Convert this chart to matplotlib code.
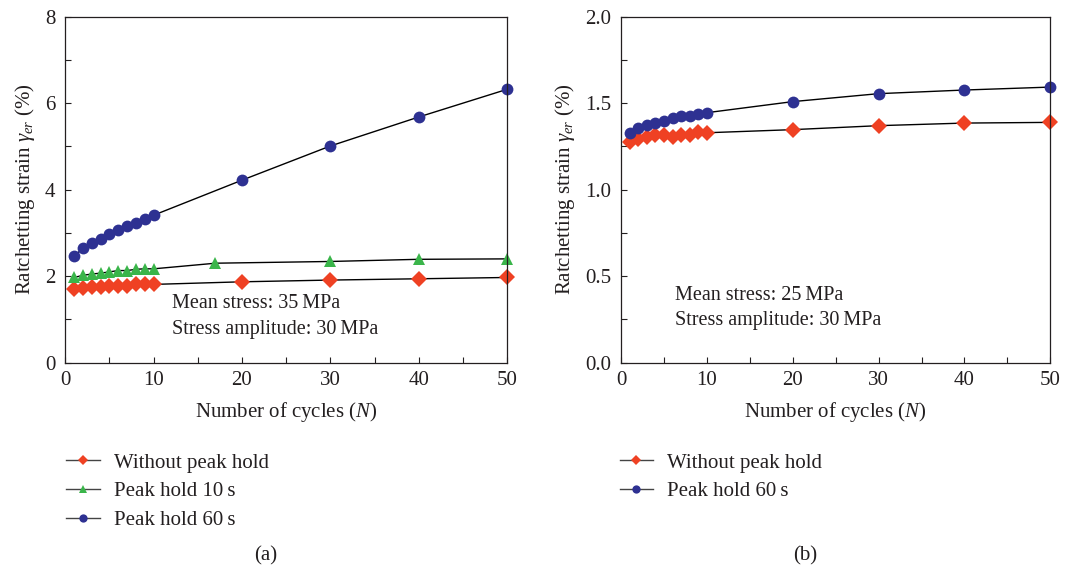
import matplotlib
matplotlib.use("Agg")
import matplotlib.pyplot as plt
from matplotlib.ticker import MultipleLocator

# ---------------------------------------
# Data: ratchetting strain vs cycles
# ---------------------------------------

cycles = [1, 2, 3, 4, 5, 6, 7, 8, 9, 10, 20, 30, 40, 50]
cycles_10s = [1, 2, 3, 4, 5, 6, 7, 8, 9, 10, 17, 30, 40, 50]

# (a) mean stress 35 MPa
a_no_hold = [1.70, 1.72, 1.74, 1.76, 1.77, 1.78, 1.78, 1.81, 1.81, 1.81, 1.87, 1.91, 1.94, 1.97]
a_hold_10s = [1.97, 2.02, 2.05, 2.07, 2.10, 2.13, 2.13, 2.16, 2.17, 2.17, 2.30, 2.34, 2.39, 2.40]
a_hold_60s = [2.47, 2.64, 2.77, 2.87, 2.97, 3.07, 3.15, 3.24, 3.32, 3.41, 4.22, 5.01, 5.68, 6.32]

# (b) mean stress 25 MPa
b_no_hold = [1.277, 1.295, 1.306, 1.318, 1.318, 1.306, 1.318, 1.316, 1.333, 1.329, 1.347, 1.370, 1.385, 1.389]
b_hold_60s = [1.326, 1.358, 1.372, 1.383, 1.399, 1.416, 1.424, 1.428, 1.439, 1.445, 1.509, 1.555, 1.576, 1.593]

labels = ["Without peak hold", "Peak hold 10\u2009s", "Peak hold 60\u2009s"]

RED = "#ef4123"
GREEN = "#3ab54a"
BLUE = "#2e3192"
TXT = "#231f20"

plt.rcParams["font.family"] = ["Liberation Serif", "DejaVu Serif"]
plt.rcParams["mathtext.fontset"] = "custom"
plt.rcParams["mathtext.rm"] = "Liberation Serif"
plt.rcParams["mathtext.it"] = "Liberation Serif:italic"
plt.rcParams["font.size"] = 15
plt.rcParams["text.color"] = TXT
plt.rcParams["axes.labelcolor"] = TXT
plt.rcParams["xtick.color"] = TXT
plt.rcParams["ytick.color"] = TXT
plt.rcParams["axes.edgecolor"] = TXT

fig = plt.figure(figsize=(10.85, 5.69), dpi=100)
ax1 = fig.add_axes([0.0602, 0.3626, 0.4071, 0.6081])
ax2 = fig.add_axes([0.5724, 0.3626, 0.3956, 0.6081])

line_kw = dict(color="black", lw=1.0, markeredgewidth=0)


def style_axes(ax, ymax, ymajor, yminor):
    ax.set_xlim(0, 50)
    ax.set_ylim(0, ymax)
    ax.xaxis.set_major_locator(MultipleLocator(10))
    ax.xaxis.set_minor_locator(MultipleLocator(5))
    ax.yaxis.set_major_locator(MultipleLocator(ymajor))
    ax.yaxis.set_minor_locator(MultipleLocator(yminor))
    ax.tick_params(which="both", direction="in", length=4, width=0.8,
                   top=False, right=False, labelsize=15)
    ax.tick_params(axis="x", pad=6)
    ax.tick_params(axis="y", pad=7)
    for sp in ax.spines.values():
        sp.set_linewidth(0.9)
    ax.set_xlabel("Number of cycles ($N$)", fontsize=15, labelpad=7)
    ax.set_ylabel("Ratchetting strain $\\gamma_{er}$ (%)", fontsize=15, labelpad=6)


def add_legend(ax, x0):
    leg = ax.legend(loc="upper left", bbox_to_anchor=(x0, 0.204), bbox_transform=fig.transFigure,
                    frameon=False, fontsize=15, handlelength=1.6, handletextpad=0.7,
                    labelspacing=0.45, markerscale=0.7, borderaxespad=0, borderpad=0)
    for h in leg.get_lines():
        h.set_color("#444444")
    return leg


#########################################
# (a) Mean stress 35 MPa
#########################################

ax1.plot(cycles, a_no_hold, marker="D", ms=8, mfc=RED, label=labels[0], **line_kw)
ax1.plot(cycles_10s, a_hold_10s, marker="^", ms=9, mfc=GREEN, label=labels[1], **line_kw)
ax1.plot(cycles, a_hold_60s, marker="o", ms=8.5, mfc=BLUE, label=labels[2], **line_kw)
for ln in ax1.lines:
    ln.set_clip_on(False)
style_axes(ax1, 8, 2, 1)
ax1.text(12.1, 1.36, "Mean stress: 35\u2009MPa", va="center", fontsize=14.5)
ax1.text(12.1, 0.76, "Stress amplitude: 30\u2009MPa", va="center", fontsize=14.5)
add_legend(ax1, 0.061)
fig.text(0.2445, 0.023, "(a)", ha="center", va="center", fontsize=15)

#########################################
# (b) Mean stress 25 MPa
#########################################

ax2.plot(cycles, b_no_hold, marker="D", ms=8, mfc=RED, label=labels[0], **line_kw)
ax2.plot(cycles, b_hold_60s, marker="o", ms=8.5, mfc=BLUE, label=labels[2], **line_kw)
for ln in ax2.lines:
    ln.set_clip_on(False)
style_axes(ax2, 2.0, 0.5, 0.25)
ax2.yaxis.set_major_formatter(plt.FormatStrFormatter("%.1f"))
ax2.text(6.3, 0.391, "Mean stress: 25\u2009MPa", va="center", fontsize=14.5)
ax2.text(6.3, 0.243, "Stress amplitude: 30\u2009MPa", va="center", fontsize=14.5)
add_legend(ax2, 0.571)
fig.text(0.742, 0.023, "(b)", ha="center", va="center", fontsize=15)

fig.savefig("out.png", dpi=100)
